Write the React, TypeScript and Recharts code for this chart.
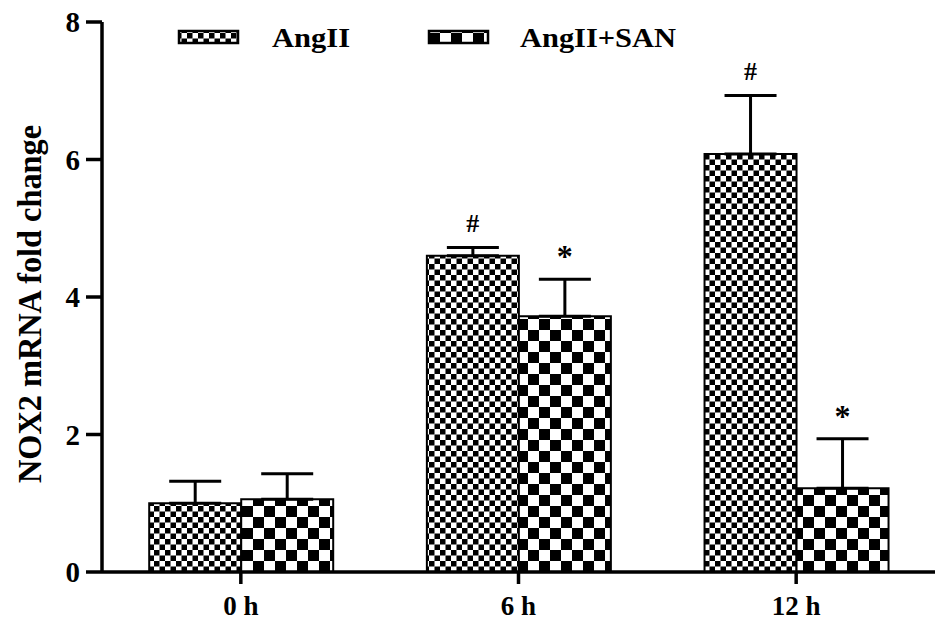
import React from 'react';
import { BarChart, Bar, XAxis, YAxis, ErrorBar, LabelList } from 'recharts';

const categories = ['0 h', '6 h', '12 h'];
const angII = [1.0, 4.6, 6.08];
const angIIErr = [0.32, 0.12, 0.85];
const angIIMarks = ['', '#', '#'];
const angIISan = [1.06, 3.72, 1.22];
const angIISanErr = [0.37, 0.54, 0.72];
const angIISanMarks = ['', '*', '*'];
const yTicks = [0, 2, 4, 6, 8];

const data = categories.map((c, i) => ({
  name: c,
  angII: angII[i],
  angIIErr: [0, angIIErr[i]],
  angIIMark: angIIMarks[i],
  san: angIISan[i],
  sanErr: [0, angIISanErr[i]],
  sanMark: angIISanMarks[i],
}));

const font = '"Liberation Serif", "DejaVu Serif", serif';

// marker text sits above the top of the error bar
const makeMark = (vals: number[], errs: number[]) => (props: any) => {
  const { x, width, value, index, y, height } = props;
  if (!value) return null;
  const perUnit = height / vals[index];
  const top = y - errs[index] * perUnit;
  return (
    <text
      x={x + width / 2}
      y={top - (value === '#' ? 16 : 12)}
      textAnchor="middle"
      fontFamily={font}
      fontWeight="bold"
      fontSize={value === '#' ? 26 : 32}
      fill="#000"
    >
      {value}
    </text>
  );
};

const LegendOverlay = () => (
  <svg width={945} height={60} style={{ position: 'absolute', left: 0, top: 0 }}>
    <rect x={179} y={31} width={59} height={12} fill="url(#fineCheck)" stroke="#000" strokeWidth={2.5} />
    <text x={272} y={47} fontFamily={font} fontWeight="bold" fontSize={27} textLength={78} lengthAdjust="spacingAndGlyphs">AngII</text>
    <rect x={429} y={31} width={59} height={12} fill="url(#coarseCheck)" stroke="#000" strokeWidth={2.5} />
    <text x={520} y={47} fontFamily={font} fontWeight="bold" fontSize={27} textLength={156} lengthAdjust="spacingAndGlyphs">AngII+SAN</text>
  </svg>
);

const YLabel = () => (
  <text
    x={41}
    y={304}
    transform="rotate(-90 41 304)"
    textAnchor="middle"
    fontFamily={font}
    fontWeight="bold"
    fontSize={34}
    textLength={358}
    lengthAdjust="spacingAndGlyphs"
    fill="#000"
  >
    NOX2 mRNA fold change
  </text>
);

export default function App() {
  return (
    <div style={{ position: 'absolute', left: 0, top: 0, width: 945, height: 630, background: '#fff' }}>
      <svg width={0} height={0} style={{ position: 'absolute' }}>
        <defs>
          <pattern id="fineCheck" width={11} height={11} patternUnits="userSpaceOnUse">
            <rect width={11} height={11} fill="#fff" />
            <rect x={0} y={0} width={5.5} height={5.5} fill="#000" />
            <rect x={5.5} y={5.5} width={5.5} height={5.5} fill="#000" />
          </pattern>
          <pattern id="coarseCheck" width={22} height={22} patternUnits="userSpaceOnUse">
            <rect width={22} height={22} fill="#fff" />
            <rect x={0} y={0} width={11} height={11} fill="#000" />
            <rect x={11} y={11} width={11} height={11} fill="#000" />
          </pattern>
        </defs>
      </svg>
      <BarChart
        width={945}
        height={630}
        data={data}
        margin={{ top: 22, right: 10, bottom: 0, left: 0 }}
        barCategoryGap="17%"
        barGap={0}
      >
        <XAxis
          dataKey="name"
          height={58}
          axisLine={{ stroke: '#000', strokeWidth: 3.5 }}
          tickLine={{ stroke: '#000', strokeWidth: 3.5 }}
          tickSize={12}
          tickMargin={12}
          tick={{ fill: '#000', fontFamily: font, fontWeight: 'bold', fontSize: 27 }}
        />
        <YAxis
          domain={[0, 8]}
          ticks={yTicks}
          width={102}
          axisLine={{ stroke: '#000', strokeWidth: 3.5 }}
          tickLine={{ stroke: '#000', strokeWidth: 3.5 }}
          tickSize={16}
          tickMargin={6}
          tick={{ fill: '#000', fontFamily: font, fontWeight: 'bold', fontSize: 29 }}
          label={<YLabel />}
        />
        <Bar dataKey="angII" name="AngII" fill="url(#fineCheck)" stroke="#000" strokeWidth={2} isAnimationActive={false}>
          <ErrorBar dataKey="angIIErr" direction="y" width={26} stroke="#000" strokeWidth={3} />
          <LabelList dataKey="angIIMark" content={makeMark(angII, angIIErr)} />
        </Bar>
        <Bar dataKey="san" name="AngII+SAN" fill="url(#coarseCheck)" stroke="#000" strokeWidth={2} isAnimationActive={false}>
          <ErrorBar dataKey="sanErr" direction="y" width={26} stroke="#000" strokeWidth={3} />
          <LabelList dataKey="sanMark" content={makeMark(angIISan, angIISanErr)} />
        </Bar>
      </BarChart>
      <LegendOverlay />
    </div>
  );
}
